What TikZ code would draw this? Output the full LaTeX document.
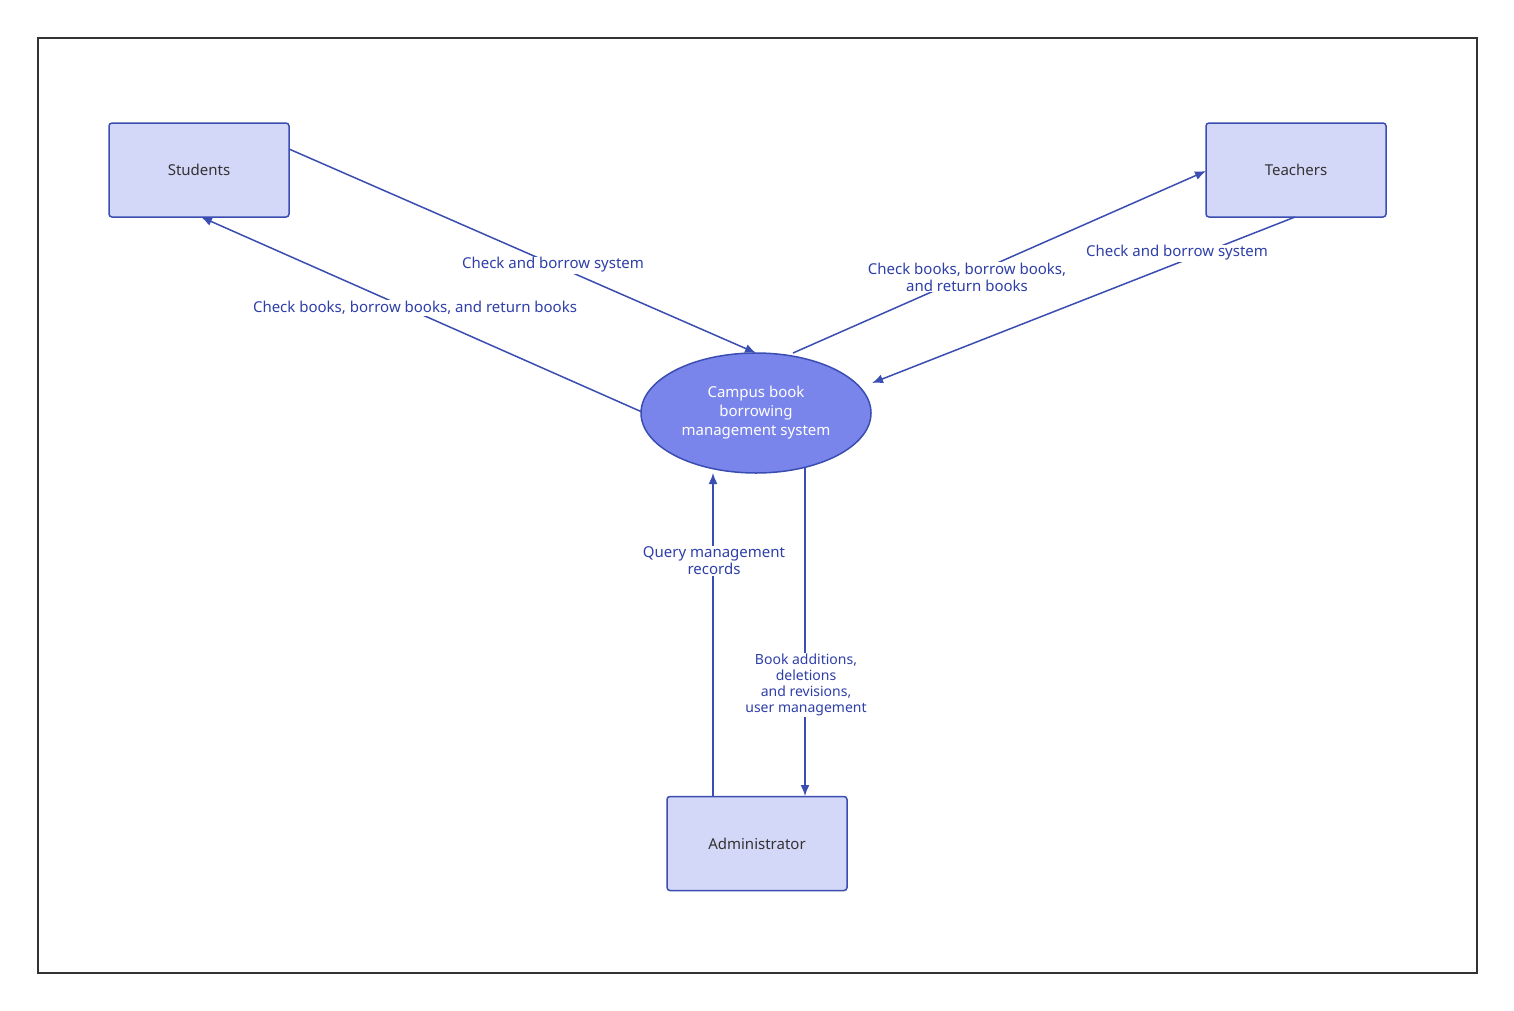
\documentclass[tikz,border=0pt]{standalone}
\usepackage{fontspec}
\setmainfont{Noto Sans}
\usetikzlibrary{shapes.geometric,arrows.meta}
\definecolor{bx}{HTML}{D4D8F8}
\definecolor{st}{HTML}{3A4DB0}
\definecolor{el}{HTML}{7A85EC}
\definecolor{lb}{HTML}{2E3FA8}
\begin{document}
\begin{tikzpicture}[x=1pt,y=-1pt,
 box/.style={draw=st,fill=bx,line width=1.5pt,rounded corners=3pt,minimum width=180pt,minimum height=94pt,font=\fontsize{15}{18}\selectfont,text=black!80},
 ar/.style={draw=st,line width=1.5pt,-{Latex[length=11pt,width=9pt]}},
 lab/.style={fill=white,text=lb,font=\fontsize{15}{17}\selectfont,align=center,inner sep=1pt}]
\useasboundingbox (0,0) rectangle (1514,1010);
\draw[line width=1.5pt,black!80] (38,38) rectangle (1477,973);
\node[box] (stu) at (199,170) {Students};
\node[box] (tea) at (1296,170) {Teachers};
\node[box] (adm) at (757,843.5) {Administrator};
\node[ellipse,draw=st,fill=el,line width=1.5pt,minimum width=230pt,minimum height=120pt,inner sep=0pt,text=white,align=center,font=\fontsize{15}{19}\selectfont] (sys) at (756,413) {Campus book\\borrowing\\management system};
\coordinate (a1) at (289,149); \coordinate (b1) at (756,353);
\coordinate (a2) at (642,412); \coordinate (b2) at (201,217);
\coordinate (a3) at (793,353); \coordinate (b3) at (1206,171);
\coordinate (a4) at (1295,217); \coordinate (b4) at (872,383);
\coordinate (a5) at (713,796); \coordinate (b5) at (713,473);
\coordinate (a6) at (805,468); \coordinate (b6) at (805,796);
\draw[ar] (a1) -- (b1);
\draw[ar] (a2) -- (b2);
\draw[ar] (a3) -- (b3);
\draw[ar] (a4) -- (b4);
\draw[ar] (a5) -- (b5);
\draw[ar] (a6) -- (b6);
\node[lab] (l1) at (553,265) {Check and borrow system};
\node[lab] (l2) at (415,308) {Check books, borrow books, and return books};
\node[lab] (l3) at (967,277) {Check books, borrow books,\\and return books};
\node[lab] (l4) at (1177,253) {Check and borrow system};
\node[lab] (l5) at (714,561) {Query management\\records};
\node[lab,font=\fontsize{14}{16}\selectfont] (l6) at (806,685) {Book additions,\\deletions\\and revisions,\\user management};
\end{tikzpicture}
\end{document}
